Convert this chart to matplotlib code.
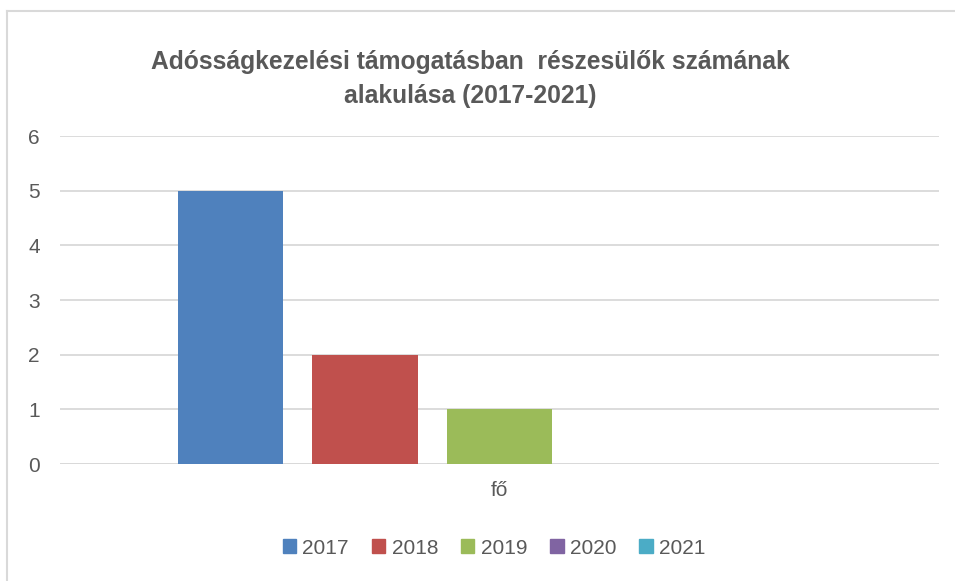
import matplotlib.pyplot as plt
from matplotlib.patches import Patch
from matplotlib.lines import Line2D

# data
years = ['2017', '2018', '2019', '2020', '2021']
values = [5, 2, 1, 0, 0]
category = 'fő'
colors = ['#4F81BD', '#C0504D', '#9BBB59', '#8064A2', '#4BACC6']

plt.rcParams['font.family'] = ['Liberation Sans', 'DejaVu Sans']
gray = '#595959'

fig = plt.figure(figsize=(9.55, 5.81), dpi=100)
ax = fig.add_axes([60/955, 1 - 464/581, 879/955, 328/581])

# bars, one per year, grouped round the single category
width = 0.1195
step = 0.153
for i, (yr, v, c) in enumerate(zip(years, values, colors)):
    ax.bar((i - 2) * step, v, width=width, color=c, label=yr, zorder=3)

ax.set_xlim(-0.5, 0.5)
ax.set_ylim(0, 6)
ax.set_yticks(range(0, 7))
ax.set_xticks([0])
ax.set_xticklabels([category])
ax.tick_params(axis='both', length=0, colors=gray, labelsize=15)
ax.tick_params(axis='y', pad=14.5)
ax.tick_params(axis='x', pad=12)
ax.yaxis.grid(True, color='#D9D9D9', linewidth=1.3, zorder=0)
for s in ax.spines.values():
    s.set_visible(False)
ax.axhline(0, color='#D9D9D9', linewidth=1.3, zorder=1)

fig.text(470/955, 1 - 79/581,
         'Adósságkezelési támogatásban  részesülők számának\nalakulása (2017-2021)',
         fontsize=17.7, fontweight='bold', color=gray, ha='center', va='center',
         linespacing=1.55)

handles = [Patch(color=c, label=yr) for yr, c in zip(years, colors)]
fig.legend(handles=handles, loc='center', bbox_to_anchor=(494/955, 1 - 548/581), ncol=5,
           frameon=False, fontsize=15, labelcolor=gray, handlelength=0.65, handleheight=0.65,
           handletextpad=0.3, columnspacing=1.1)

# chart border (left and top visible)
fig.add_artist(Line2D([7/955, 7/955], [0, 1 - 11/581], color='#D9D9D9', linewidth=1.5))
fig.add_artist(Line2D([7/955, 1], [1 - 11/581, 1 - 11/581], color='#D9D9D9', linewidth=1.5))

fig.savefig('out.png', dpi=100)
